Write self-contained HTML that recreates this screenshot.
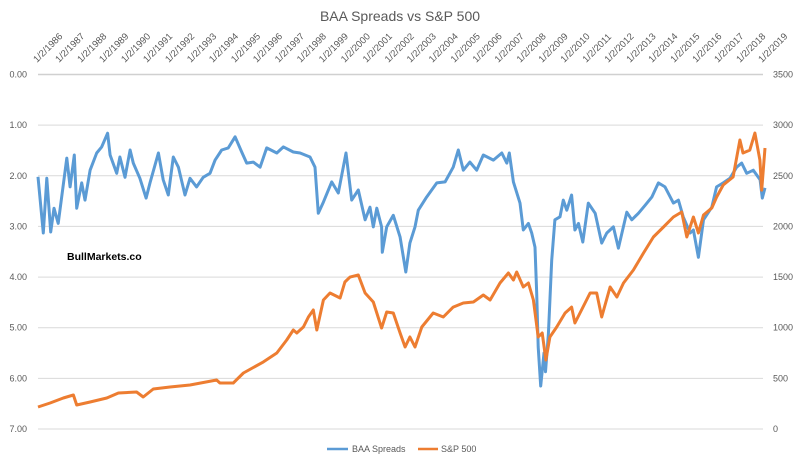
<!DOCTYPE html>
<html><head><meta charset="utf-8"><style>
body{margin:0;background:#fff;}
svg{display:block;font-family:"Liberation Sans",sans-serif;}
</style></head><body>
<svg id="chart" width="800" height="466" viewBox="0 0 800 466">
<rect width="800" height="466" fill="#fff"/>
<text x="400" y="21" text-anchor="middle" font-size="14" fill="#595959">BAA Spreads vs S&amp;P 500</text>
<g id="grid"></g>
<g id="yleft"></g>
<g id="yright"></g>
<g id="xlab"></g>
<text x="67" y="260" font-size="10.5" font-weight="bold" fill="#000">BullMarkets.co</text>
<path id="baa" fill="none" stroke="#5B9BD5" stroke-width="3" stroke-linejoin="round"/>
<path id="spx" fill="none" stroke="#ED7D31" stroke-width="3" stroke-linejoin="round"/>
<g>
<line x1="327" y1="449" x2="348" y2="449" stroke="#5B9BD5" stroke-width="2.6"/>
<text x="352" y="452" font-size="9" fill="#595959">BAA Spreads</text>
<line x1="418" y1="449" x2="438" y2="449" stroke="#ED7D31" stroke-width="2.6"/>
<text x="441" y="452" font-size="9" fill="#595959">S&amp;P 500</text>
</g>
</svg>
<script>
const leftTicks=[0,1,2,3,4,5,6,7];
const rightTicks=[0,500,1000,1500,2000,2500,3000,3500];
const yearTicks=[1986,1987,1988,1989,1990,1991,1992,1993,1994,1995,1996,1997,1998,1999,2000,2001,2002,2003,2004,2005,2006,2007,2008,2009,2010,2011,2012,2013,2014,2015,2016,2017,2018,2019];
const baaDates=[1986.00,1986.24,1986.40,1986.58,1986.73,1986.92,1987.31,1987.46,1987.65,1987.76,1987.99,1988.14,1988.37,1988.67,1988.90,1989.17,1989.28,1989.58,1989.73,1989.96,1990.19,1990.34,1990.64,1990.92,1991.10,1991.48,1991.70,1991.93,1992.16,1992.39,1992.69,1992.92,1993.22,1993.52,1993.83,1994.06,1994.36,1994.66,1994.97,1995.27,1995.50,1995.80,1996.11,1996.41,1996.87,1997.17,1997.62,1997.93,1998.38,1998.61,1998.76,1998.99,1999.37,1999.67,2000.02,2000.28,2000.58,2000.89,2001.11,2001.26,2001.42,2001.64,2001.67,2001.87,2002.17,2002.48,2002.74,2002.93,2003.16,2003.31,2003.69,2004.15,2004.53,2004.90,2005.13,2005.36,2005.66,2005.97,2006.27,2006.73,2007.11,2007.34,2007.45,2007.64,2007.94,2008.09,2008.32,2008.47,2008.62,2008.70,2008.77,2008.88,2009.03,2009.10,2009.23,2009.38,2009.53,2009.76,2009.91,2010.07,2010.29,2010.44,2010.60,2010.80,2011.05,2011.36,2011.66,2011.89,2012.19,2012.42,2012.80,2013.03,2013.33,2013.64,2013.94,2014.24,2014.54,2014.92,2015.15,2015.37,2015.68,2015.83,2016.06,2016.29,2016.67,2016.89,2017.19,2017.50,2017.80,2018.03,2018.26,2018.56,2018.87,2018.97,2019.09];
const baaValues=[2.02,3.13,2.05,3.11,2.64,2.94,1.65,2.22,1.59,2.64,2.14,2.48,1.89,1.55,1.43,1.16,1.59,1.95,1.63,2.03,1.49,1.75,2.05,2.44,2.14,1.55,2.08,2.38,1.63,1.83,2.38,2.05,2.22,2.03,1.95,1.69,1.49,1.45,1.23,1.53,1.75,1.73,1.83,1.45,1.55,1.43,1.53,1.55,1.63,1.83,2.74,2.52,2.12,2.34,1.55,2.48,2.28,2.87,2.62,3.01,2.64,3.01,3.51,3.01,2.78,3.21,3.90,3.33,3.01,2.68,2.42,2.14,2.12,1.83,1.49,1.89,1.73,1.89,1.59,1.69,1.55,1.75,1.55,2.12,2.54,3.07,2.94,3.13,3.41,4.32,5.38,6.15,5.50,5.87,5.12,3.67,2.87,2.81,2.48,2.68,2.38,3.07,2.94,3.31,2.54,2.74,3.33,3.13,3.01,3.43,2.72,2.87,2.74,2.58,2.42,2.14,2.22,2.54,2.48,2.81,3.13,3.07,3.61,2.87,2.62,2.22,2.14,2.05,1.83,1.75,1.95,1.89,2.08,2.44,2.24];
const spxDates=[1986.00,1986.55,1987.15,1987.61,1987.76,1988.37,1989.13,1989.66,1990.49,1990.79,1991.25,1992.01,1992.92,1994.13,1994.28,1994.89,1995.35,1996.26,1996.87,1997.32,1997.62,1997.78,1998.08,1998.31,1998.53,1998.69,1998.99,1999.29,1999.75,1999.97,2000.20,2000.58,2000.89,2001.26,2001.64,2001.87,2002.17,2002.48,2002.71,2002.93,2003.16,2003.47,2003.99,2004.45,2004.90,2005.36,2005.82,2006.27,2006.58,2007.03,2007.41,2007.64,2007.79,2008.09,2008.32,2008.55,2008.77,2008.95,2009.12,2009.30,2009.61,2009.99,2010.29,2010.44,2010.67,2011.13,2011.43,2011.66,2012.04,2012.35,2012.65,2013.10,2013.56,2014.01,2014.47,2014.92,2015.30,2015.53,2015.83,2016.06,2016.29,2016.67,2016.89,2017.19,2017.64,2017.95,2018.09,2018.40,2018.63,2018.86,2018.94,2019.09];
const spxValues=[217,257,306,336,237,267,306,355,365,316,395,415,434,484,454,454,553,662,750,879,977,948,1007,1106,1175,977,1274,1343,1293,1451,1500,1520,1343,1254,997,1155,1145,948,810,908,810,1007,1145,1106,1204,1244,1254,1323,1274,1441,1540,1471,1550,1402,1441,1274,908,948,681,908,1007,1145,1204,1047,1145,1343,1343,1106,1402,1303,1441,1570,1738,1896,1994,2093,2142,1896,2093,1935,2113,2182,2290,2409,2488,2853,2725,2754,2922,2655,2359,2774];

const X0=38,X1=763,Y0=74.5,Y1=429;
function xScale(yr){return X0+(yr-1986)*(X1-X0)/(2019-1986);}
function yLeft(v){return Y0+v*(Y1-Y0)/7;}
function yRight(v){return Y1-v*(Y1-Y0)/3500;}
const NS='http://www.w3.org/2000/svg';
const grid=document.getElementById('grid'),yl=document.getElementById('yleft'),yr=document.getElementById('yright'),xl=document.getElementById('xlab');
leftTicks.forEach(t=>{
  const y=yLeft(t);
  const ln=document.createElementNS(NS,'line');
  ln.setAttribute('x1',X0);ln.setAttribute('x2',X1);ln.setAttribute('y1',y);ln.setAttribute('y2',y);
  ln.setAttribute('stroke',t===0?'#d0d0d0':'#d9d9d9');ln.setAttribute('stroke-width',t===0?'1.5':'1');
  
  
  grid.appendChild(ln);
  const tx=document.createElementNS(NS,'text');
  tx.setAttribute('x',27);tx.setAttribute('y',y+3);tx.setAttribute('text-anchor','end');
  tx.setAttribute('font-size','9');tx.setAttribute('fill','#595959');
  tx.textContent=t.toFixed(2);
  
  
  yl.appendChild(tx);
});
rightTicks.forEach(t=>{
  const tx=document.createElementNS(NS,'text');
  tx.setAttribute('x',773);tx.setAttribute('y',yRight(t)+3);
  tx.setAttribute('font-size','9');tx.setAttribute('fill','#595959');
  tx.textContent=t;
  
  
  yr.appendChild(tx);
});
yearTicks.forEach(t=>{
  const x=xScale(t)-1;
  const tx=document.createElementNS(NS,'text');
  tx.setAttribute('x',x);tx.setAttribute('y',63);
  tx.setAttribute('transform','rotate(-45 '+x+' 63)');
  tx.setAttribute('font-size','9.5');tx.setAttribute('fill','#595959');
  tx.textContent='1/2/'+t;
  
  
  xl.appendChild(tx);
});
function pathD(ds,vs,ys){return ds.map((d,i)=>(i?'L':'M')+xScale(d).toFixed(1)+' '+ys(vs[i]).toFixed(1)).join(' ');}
document.getElementById('baa').setAttribute('d',pathD(baaDates,baaValues,yLeft));
document.getElementById('spx').setAttribute('d',pathD(spxDates,spxValues,yRight));
</script>
</body></html>
